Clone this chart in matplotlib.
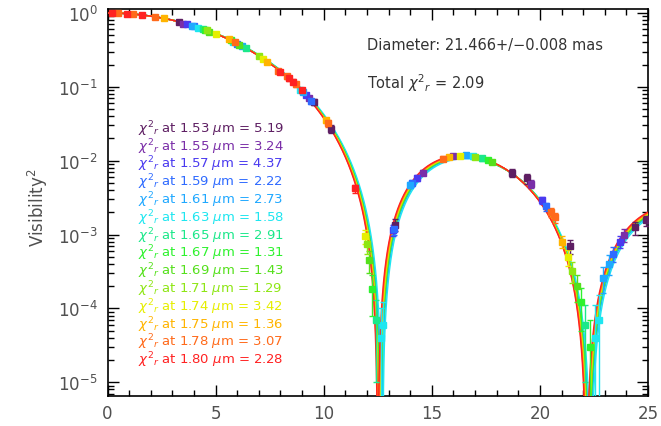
import numpy as np
import matplotlib
matplotlib.use("Agg")
import matplotlib.pyplot as plt
from matplotlib.ticker import MultipleLocator, LogLocator, NullFormatter

# ---- fit summary -------------------------------------------------------
diameter_mas = 21.466
diameter_err = 0.008
total_chi2 = 2.09

wavelengths = [1.53, 1.55, 1.57, 1.59, 1.61, 1.63, 1.65, 1.67, 1.69, 1.71, 1.74, 1.75, 1.78, 1.80]
chi2_r = [5.19, 3.24, 4.37, 2.22, 2.73, 1.58, 2.91, 1.31, 1.43, 1.29, 3.42, 1.36, 3.07, 2.28]
# linear limb-darkening coefficient used for each channel's model curve
limb_u = [0.54, 0.55, 0.56, 0.57, 0.59, 0.61, 0.57, 0.56, 0.56, 0.55, 0.54, 0.53, 0.52, 0.51]
colors = ['#5e1f63', '#7a2ea8', '#4a3af0', '#2f6bff', '#1fa8ff', '#1ee6f0', '#1be88a',
          '#2ef22e', '#55e01c', '#8ee614', '#e6ee00', '#ffb400', '#ff6a1a', '#ff2222']

# ---- measured squared visibilities per channel (spatial freq. in 1e6 rad^-1)
spatial_freq = [
    [3.3, 9.55, 10.35, 13.3, 18.7, 19.4, 21.4, 24.4, 24.9],
    [3.5, 9.3, 14.6, 16.0, 19.6, 23.9],
    [3.7, 9.2, 13.2, 14.3, 20.1, 23.7],
    [4.0, 6.0, 9.4, 13.25, 14.1, 20.3, 23.4],
    [3.9, 6.2, 9.05, 14.0, 16.6, 22.9, 23.2],
    [4.2, 5.8, 8.9, 12.65, 12.75, 16.9, 22.55, 22.75],
    [4.4, 6.4, 12.4, 17.3, 22.1],
    [4.5, 5.7, 12.25, 17.6, 21.9, 22.3],
    [4.7, 6.1, 12.1, 17.8, 21.7],
    [4.6, 7.0, 12.0, 17.0, 21.5],
    [5.0, 7.2, 11.9, 16.3, 21.3],
    [2.6, 5.6, 7.4, 10.1, 15.8, 21.0],
    [0.5, 1.2, 2.2, 5.9, 7.9, 8.3, 8.7, 10.2, 15.5, 20.5, 20.7],
    [0.2, 0.9, 1.6, 8.0, 8.4, 8.6, 9.0, 11.45],
]
vis2 = [
    [0.75, 0.062, 0.027, 1.35e-3, 6.8e-3, 5.8e-3, 7.0e-4, 1.25e-3, 1.55e-3],
    [0.72, 0.071, 6.9e-3, 1.16e-2, 4.9e-3, 1.0e-3],
    [0.70, 0.077, 1.15e-3, 5.8e-3, 2.9e-3, 8.0e-4],
    [0.66, 0.385, 0.064, 1.2e-3, 5.0e-3, 2.4e-3, 5.5e-4],
    [0.67, 0.36, 0.085, 4.7e-3, 1.18e-2, 2.6e-4, 4.0e-4],
    [0.63, 0.41, 0.090, 4e-5, 6e-5, 1.14e-2, 4e-5, 7e-5],
    [0.60, 0.335, 7e-5, 1.08e-2, 6e-5],
    [0.59, 0.43, 1.8e-4, 1.03e-2, 1.2e-4, 3e-5],
    [0.56, 0.37, 4.5e-4, 9.6e-3, 2.0e-4],
    [0.58, 0.26, 7.5e-4, 1.13e-2, 3.2e-4],
    [0.52, 0.24, 9.5e-4, 1.17e-2, 5.0e-4],
    [0.85, 0.44, 0.215, 0.035, 1.12e-2, 8.0e-4],
    [0.99, 0.965, 0.89, 0.40, 0.165, 0.138, 0.108, 0.032, 1.06e-2, 2.0e-3, 1.7e-3],
    [1.0, 0.98, 0.945, 0.16, 0.13, 0.118, 0.09, 4.2e-3],
]
vis2_err = [
    [0.03, 0.006, 0.003, 2.5e-4, 8e-4, 9e-4, 1.5e-4, 2.5e-4, 2.5e-4],
    [0.03, 0.005, 6e-4, 8e-4, 6e-4, 2e-4],
    [0.025, 0.005, 2e-4, 5e-4, 3e-4, 1.5e-4],
    [0.025, 0.02, 0.005, 2e-4, 5e-4, 3e-4, 1.2e-4],
    [0.025, 0.02, 0.005, 5e-4, 8e-4, 1e-4, 1.2e-4],
    [0.025, 0.02, 0.006, 6e-5, 6e-5, 8e-4, 7e-5, 8e-5],
    [0.025, 0.02, 6e-5, 8e-4, 5e-5],
    [0.025, 0.02, 1e-4, 7e-4, 7e-5, 4e-5],
    [0.025, 0.02, 1.5e-4, 7e-4, 8e-5],
    [0.025, 0.015, 2e-4, 8e-4, 1e-4],
    [0.02, 0.015, 2e-4, 8e-4, 1.2e-4],
    [0.03, 0.02, 0.012, 0.003, 8e-4, 1.5e-4],
    [0.02, 0.02, 0.02, 0.02, 0.01, 0.01, 0.008, 0.003, 8e-4, 2.5e-4, 2.5e-4],
    [0.02, 0.02, 0.02, 0.01, 0.01, 0.008, 0.007, 5e-4],
]

MAS = np.pi / 180 / 3600 / 1000


def bessel_j1(x):
    tau = np.linspace(0.0, np.pi, 801)
    integrand = np.cos(tau[None, :] - x[:, None] * np.sin(tau[None, :]))
    return np.trapezoid(integrand, tau, axis=1) / np.pi


def ld_disk_vis2(freq, theta_mas, u):
    """Squared visibility of a linearly limb-darkened disk."""
    x = np.pi * theta_mas * MAS * freq * 1e6
    ud = bessel_j1(x) / x
    ld = (np.sin(x) - x * np.cos(x)) / x ** 3
    v = ((1 - u) * ud + u * ld) / ((1 - u) / 2 + u / 3)
    return v ** 2


fig = plt.figure(figsize=(6.61, 4.27), dpi=100)
ax = fig.add_axes([107.5 / 661, 1 - 397 / 427, 540.5 / 661, 387.5 / 427])
ax.set_yscale('log')

freq_grid = np.linspace(0.02, 25.0, 3000)
for u, c in zip(limb_u, colors):
    ax.plot(freq_grid, ld_disk_vis2(freq_grid, diameter_mas, u), color=c, lw=1.0, zorder=3)

for s, v, e, c in zip(spatial_freq, vis2, vis2_err, colors):
    ax.errorbar(s, v, yerr=e, fmt='s', ms=4.3, color=c, mec=c, ecolor=c,
                elinewidth=1.0, capsize=2.5, capthick=1.0, zorder=4)

ax.set_xlim(0, 25)
ax.set_ylim(6.5e-6, 1.15)
ax.xaxis.set_major_locator(MultipleLocator(5))
ax.xaxis.set_minor_locator(MultipleLocator(1))
ax.yaxis.set_major_locator(LogLocator(base=10, numticks=10))
ax.yaxis.set_minor_locator(LogLocator(base=10, subs=np.arange(2, 10), numticks=20))
ax.yaxis.set_minor_formatter(NullFormatter())
ax.tick_params(which='both', direction='in', top=True, right=True, width=1.0,
               labelsize=12, labelcolor='#505050', color='black')
ax.tick_params(which='major', length=8)
ax.tick_params(axis='y', which='major', pad=7)
ax.tick_params(axis='x', which='major', pad=6)
ax.tick_params(which='minor', length=4)
for sp in ax.spines.values():
    sp.set_linewidth(1.2)

fig.text(38 / 661, 1 - 208 / 427, r'Visibility$^2$', rotation=90, ha='center', va='center',
         fontsize=12, color='#505050')

ax.text(0.48, 0.906, 'Diameter: %.3f+/\u2212%.3f mas' % (diameter_mas, diameter_err),
        transform=ax.transAxes, fontsize=10.5, color='#333333', va='center', ha='left')
ax.text(0.48, 0.811, r'Total $\chi^{2}{}_{r}$ = %.2f' % total_chi2,
        transform=ax.transAxes, fontsize=10.5, color='#333333', va='center', ha='left')

for i, (w, chi, c) in enumerate(zip(wavelengths, chi2_r, colors)):
    y = 1 - (129 + 17.8 * i - 9.5) / 387.5
    ax.text(0.057, y, r'$\chi^{2}{}_{r}$ at %.2f $\mu$m = %.2f' % (w, chi),
            transform=ax.transAxes, fontsize=9.5, color=c, va='center', ha='left', zorder=5)

fig.savefig('out.png', dpi=100)
